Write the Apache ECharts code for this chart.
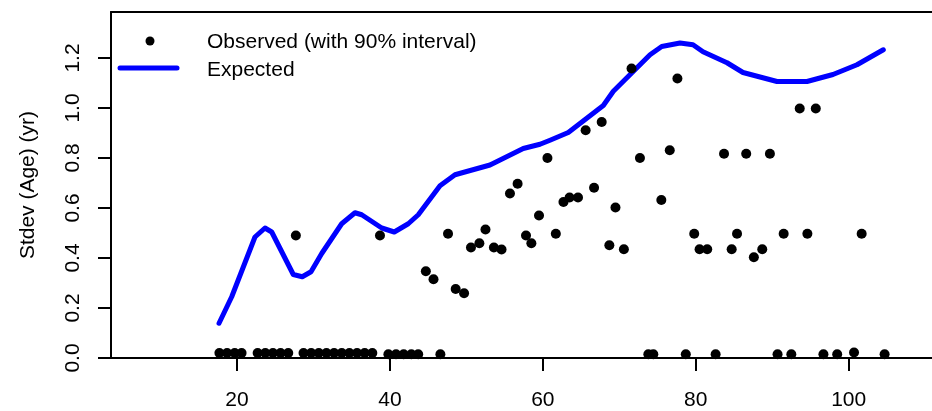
<!DOCTYPE html>
<html><head><meta charset="utf-8">
<script src="https://cdn.jsdelivr.net/npm/echarts@6/dist/echarts.min.js"></script>
<style>html,body{margin:0;padding:0;background:#fff}#c{width:932px;height:411px}</style>
</head><body><div id="c"></div>
<script>
const xTicks = [20, 40, 60, 80, 100];
const yTicks = [0, 0.2, 0.4, 0.6, 0.8, 1.0, 1.2];

const obsAge = [17.7, 18.7, 19.7, 20.6, 22.7, 23.7, 24.7, 25.7, 26.7, 27.7,
  28.7, 29.7, 30.7, 31.7, 32.7, 33.7, 34.7, 35.7, 36.7, 37.7, 38.7,
  39.8, 40.8, 41.8, 42.8, 43.7, 44.7, 45.7, 46.6, 47.6, 48.6, 49.7, 50.6, 51.7, 52.5,
  53.6, 54.6, 55.7, 56.7, 57.8, 58.5, 59.5, 60.6, 61.7, 62.7, 63.5, 64.6, 65.6, 66.7,
  67.7, 68.7, 69.5, 70.6, 71.6, 72.7, 73.8, 74.45, 75.5, 76.6, 77.6, 78.7, 79.8, 80.5,
  81.5, 82.6, 83.7, 84.7, 85.4, 86.6, 87.6, 88.7, 89.7, 90.7, 91.5, 92.5, 93.6, 94.6,
  95.7, 96.7, 98.5, 100.7, 101.7, 104.7];
const obsSd = [0.02, 0.02, 0.02, 0.02, 0.02, 0.02, 0.02, 0.02, 0.02, 0.49,
  0.02, 0.02, 0.02, 0.02, 0.02, 0.02, 0.02, 0.02, 0.02, 0.02, 0.49,
  0.015, 0.015, 0.015, 0.015, 0.015, 0.347, 0.315, 0.015, 0.497, 0.276, 0.259, 0.442, 0.459, 0.514,
  0.442, 0.434, 0.658, 0.697, 0.490, 0.459, 0.570, 0.800, 0.497, 0.624, 0.642, 0.642, 0.911, 0.681,
  0.944, 0.451, 0.602, 0.435, 1.158, 0.800, 0.015, 0.015, 0.632, 0.831, 1.118, 0.015, 0.497, 0.435,
  0.435, 0.015, 0.817, 0.435, 0.497, 0.817, 0.403, 0.435, 0.817, 0.015, 0.497, 0.015, 0.998, 0.497,
  0.998, 0.015, 0.015, 0.022, 0.497, 0.015];

const expAge = [17.65, 19.31, 22.35, 23.66, 24.54, 27.36, 28.54, 29.68, 31.08, 33.69, 35.43, 36.31,
  38.93, 40.57, 42.40, 43.71, 46.55, 48.51, 53.09, 57.44, 59.63, 60.94, 63.33, 67.91, 69.22,
  74.02, 75.55, 77.94, 79.64, 80.95, 84.09, 86.18, 90.63, 94.55, 97.95, 101.09, 104.53];
const expSd = [0.139, 0.245, 0.484, 0.520, 0.504, 0.334, 0.325, 0.345, 0.418, 0.537, 0.581, 0.573,
  0.520, 0.504, 0.537, 0.573, 0.689, 0.733, 0.772, 0.838, 0.855, 0.871, 0.902, 1.010, 1.067,
  1.213, 1.246, 1.260, 1.253, 1.225, 1.181, 1.142, 1.106, 1.106, 1.134, 1.173, 1.233];

const FONT = 'Liberation Sans, Arial, Helvetica, sans-serif';
const obsName = 'Observed (with 90% interval)';
const expName = 'Expected';

const chart = echarts.init(document.getElementById('c'), null, {renderer: 'canvas'});
const axisLine = {show: true, lineStyle: {color: '#000', width: 2}};
chart.setOption({
  animation: false,
  backgroundColor: '#fff',
  textStyle: {fontFamily: FONT},
  grid: {left: 111, top: 12, right: 0, bottom: 51, containLabel: false},
  graphic: [
    {type: 'circle', shape: {cx: 150, cy: 41, r: 4.5}, style: {fill: '#000'}, silent: true},
    {type: 'line', shape: {x1: 120, y1: 68, x2: 177, y2: 68}, style: {stroke: '#0000ff', lineWidth: 5, lineCap: 'round'}, silent: true},
    {type: 'text', x: 207, y: 42, style: {text: obsName, fill: '#000', font: '21px ' + FONT, textVerticalAlign: 'middle', verticalAlign: 'middle'}, silent: true},
    {type: 'text', x: 207, y: 70, style: {text: expName, fill: '#000', font: '21px ' + FONT, textVerticalAlign: 'middle', verticalAlign: 'middle'}, silent: true}
  ],
  xAxis: [
    {type: 'value', min: 3.52, max: 110.9, position: 'bottom',
     axisLine: axisLine, splitLine: {show: false},
     axisTick: {show: true, length: 13, lineStyle: {color: '#000', width: 2}, customValues: xTicks},
     axisLabel: {show: true, customValues: xTicks, fontSize: 21, color: '#000', fontFamily: FONT, margin: 32,
       formatter: v => String(v)}},
    {type: 'value', min: 3.52, max: 110.9, position: 'top',
     axisLine: axisLine, splitLine: {show: false}, axisTick: {show: false}, axisLabel: {show: false}}
  ],
  yAxis: {type: 'value', min: 0, max: 1.384,
    axisLine: axisLine, splitLine: {show: false},
    axisTick: {show: true, length: 13, lineStyle: {color: '#000', width: 2}, customValues: yTicks},
    axisLabel: {show: true, customValues: yTicks, rotate: 90, fontSize: 21, color: '#000', fontFamily: FONT, margin: 27,
      formatter: v => v.toFixed(1)},
    name: 'Stdev (Age) (yr)', nameLocation: 'middle', nameGap: 72,
    nameTextStyle: {fontSize: 21, color: '#000', fontFamily: FONT}
  },
  series: [
    {name: expName, type: 'line', xAxisIndex: 0, data: expAge.map((a, i) => [a, expSd[i]]),
     symbol: 'none', smooth: false,
     lineStyle: {color: '#0000ff', width: 5, cap: 'round', join: 'round'}, itemStyle: {color: '#0000ff'}, z: 3},
    {name: obsName, type: 'scatter', xAxisIndex: 0, data: obsAge.map((a, i) => [a, obsSd[i]]),
     symbol: 'circle', symbolSize: 10, itemStyle: {color: '#000', opacity: 1}, z: 4, clip: false}
  ]
});
</script></body></html>
